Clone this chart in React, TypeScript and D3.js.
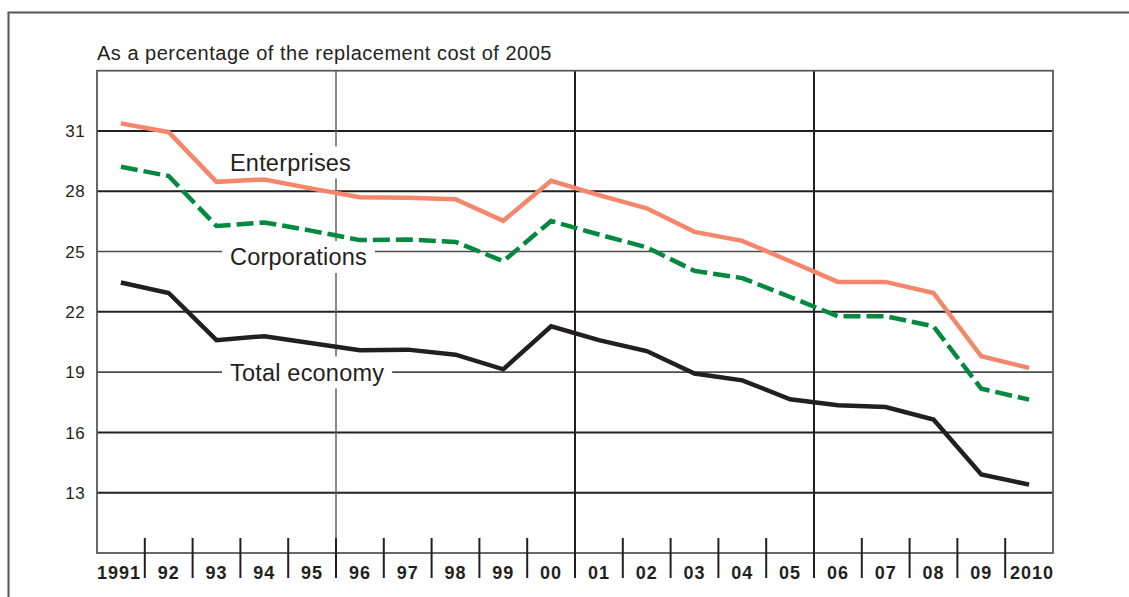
import React, { useEffect, useRef } from "react";
import * as d3 from "d3";

const years = ["1991","92","93","94","95","96","97","98","99","00","01","02","03","04","05","06","07","08","09","2010"];
const enterprises = [31.38,30.94,28.47,28.59,28.13,27.70,27.68,27.60,26.53,28.52,27.81,27.15,25.98,25.53,24.52,23.49,23.49,22.94,19.79,19.21];
const corporations = [29.22,28.76,26.27,26.45,26.03,25.57,25.60,25.48,24.52,26.52,25.85,25.21,24.04,23.68,22.74,21.78,21.78,21.28,18.18,17.63];
const totalEconomy = [23.46,22.94,20.59,20.79,20.44,20.09,20.12,19.87,19.14,21.28,20.59,20.05,18.93,18.59,17.65,17.35,17.26,16.64,13.91,13.40];
const yTicks = [13,16,19,22,25,28,31];
const yTicksGray = [19,25];
const majorBoundaries = [5,10,15];
const title = "As a percentage of the replacement cost of 2005";
const seriesLabels = [
  { text: "Enterprises", x: 230, y: 170.5 },
  { text: "Corporations", x: 230, y: 265 },
  { text: "Total economy", x: 230, y: 380.5 },
];

const W = 1129, H = 597;
const FONT = "'Liberation Sans', Arial, Helvetica, sans-serif";

export default function App() {
  const ref = useRef<SVGSVGElement | null>(null);
  useEffect(() => {
    const svg = d3.select(ref.current);
    svg.selectAll("*").remove();
    const left = 97, right = 1053, top = 70.7, bottom = 553;
    const x = d3.scaleBand<string>().domain(years).range([left, right]).padding(0);
    const y = d3.scaleLinear().domain([10, 34]).range([bottom, top]);
    const cx = (i: number) => (x(years[i]) as number) + x.bandwidth() / 2;

    // outer frame (left and top)
    svg.append("path").attr("d", `M8.5,${H} L8.5,12.5 L${W},12.5`).attr("fill", "none").attr("stroke", "#555").attr("stroke-width", 2);

    // title
    svg.append("text").attr("x", left).attr("y", 59.5).attr("font-family", FONT).attr("font-size", 20)
      .attr("letter-spacing", 0.5).attr("fill", "#231f20").text(title);

    // horizontal grid lines
    svg.append("g").selectAll("line").data(yTicks).join("line")
      .attr("x1", left).attr("x2", right).attr("y1", (d) => y(d)).attr("y2", (d) => y(d))
      .attr("stroke", (d) => (yTicksGray.includes(d) ? "#4d4d4f" : "#231f20"))
      .attr("stroke-width", (d) => (yTicksGray.includes(d) ? 1.6 : 2));

    // vertical major lines
    svg.append("g").selectAll("line").data(majorBoundaries).join("line")
      .attr("x1", (k) => x(years[k]) as number).attr("x2", (k) => x(years[k]) as number)
      .attr("y1", top).attr("y2", bottom)
      .attr("stroke", (k) => (k === 5 ? "#58595b" : "#231f20"))
      .attr("stroke-width", (k) => (k === 5 ? 1.4 : 2));

    // plot frame
    svg.append("rect").attr("x", left).attr("y", top).attr("width", right - left).attr("height", bottom - top)
      .attr("fill", "none").attr("stroke", "#58595b").attr("stroke-width", 1.8);

    // ticks at band boundaries
    svg.append("g").selectAll("line").data(d3.range(1, years.length)).join("line")
      .attr("x1", (k) => x(years[k]) as number).attr("x2", (k) => x(years[k]) as number)
      .attr("y1", 538).attr("y2", 578).attr("stroke", "#231f20").attr("stroke-width", 2);

    // y tick labels
    svg.append("g").selectAll("text").data(yTicks).join("text")
      .attr("x", 85).attr("y", (d) => y(d)).attr("dy", "0.36em").attr("text-anchor", "end")
      .attr("font-family", FONT).attr("font-size", 17).attr("letter-spacing", 0.4).attr("fill", "#231f20")
      .text((d) => String(d));

    // x labels
    svg.append("g").selectAll("text").data(years).join("text")
      .attr("x", (d, i) => cx(i) + (i === 0 ? -2 : i === years.length - 1 ? 3 : 0)).attr("y", 578.5)
      .attr("text-anchor", "middle").attr("font-family", FONT).attr("font-size", 18).attr("font-weight", "bold")
      .attr("letter-spacing", 1.0).attr("fill", "#231f20").text((d) => d);

    // series labels with white background
    seriesLabels.forEach((l) => {
      const g = svg.append("g");
      const rect = g.append("rect").attr("fill", "#fff");
      const t = g.append("text").attr("x", l.x).attr("y", l.y).attr("font-family", FONT).attr("font-size", 23.5)
        .attr("letter-spacing", 0.2).attr("fill", "#231f20").text(l.text);
      const bb = (t.node() as SVGTextElement).getBBox();
      rect.attr("x", bb.x - 8).attr("y", bb.y - 3).attr("width", bb.width + 16).attr("height", bb.height + 6);
    });

    const line = d3.line<number>().x((d, i) => cx(i)).y((d) => y(d));
    svg.append("path").datum(totalEconomy).attr("d", line).attr("fill", "none")
      .attr("stroke", "#231f20").attr("stroke-width", 4.5).attr("stroke-linejoin", "miter");
    svg.append("path").datum(corporations).attr("d", line).attr("fill", "none")
      .attr("stroke", "#00893f").attr("stroke-width", 4.5).attr("stroke-dasharray", "17 6");
    svg.append("path").datum(enterprises).attr("d", line).attr("fill", "none")
      .attr("stroke", "#f4876b").attr("stroke-width", 4.5);
  }, []);
  return (
    <svg ref={ref} width={W} height={H} style={{ position: "absolute", left: 0, top: 0, background: "#fff" }} />
  );
}
